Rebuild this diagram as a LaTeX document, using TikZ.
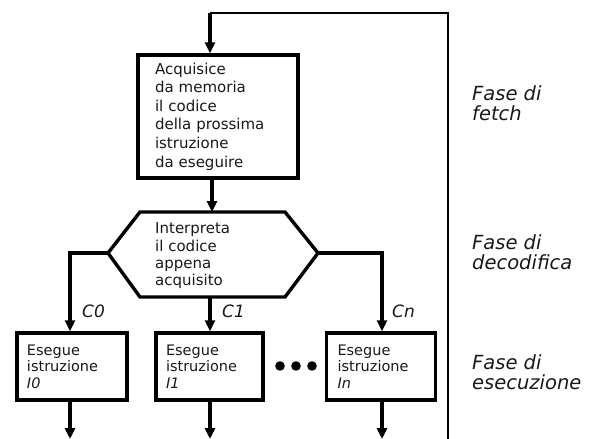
\documentclass[tikz,border=0pt]{standalone}
\usepackage{fontspec}
\setmainfont{DejaVu Sans}
\usetikzlibrary{arrows.meta}
\tikzset{
  line/.style={line width=3.4pt, draw=black},
  arr/.style={line width=3.4pt, draw=black, -{Triangle[length=11pt,width=10pt]}},
  stepbox/.style={draw=black, line width=3.4pt, fill=white, align=left, inner ysep=0pt, text=black!90},
  boxtext/.style={font=\fontsize{15}{18.6}\selectfont},
  smalltext/.style={font=\fontsize{14.5}{16.5}\selectfont},
  lbl/.style={font=\fontsize{17}{20}\selectfont\itshape, text=black!90, inner sep=0pt, anchor=west},
  phase/.style={font=\fontsize{19.5}{20}\selectfont\itshape, text=black!90, inner sep=0pt, anchor=west, align=left},
}
\begin{document}
\begin{tikzpicture}[x=1pt,y=-1pt]
\useasboundingbox (0,0) rectangle (600,439);
% fetch box
\node[stepbox, boxtext, minimum width=160pt, minimum height=123pt, text width=126pt, inner xsep=17pt] (fetch) at (218,116.5)
  {Acquisice\\da memoria\\il codice\\della prossima\\istruzione\\da eseguire};
% loop line
\coordinate (top) at (210,13);
\coordinate (topR) at (448,13);
\coordinate (botR) at (448,439);
\draw[line width=2.6pt, line join=miter] (top) -- (topR) -- (botR);
\draw[arr] (top) -- (top |- fetch.north);
% hexagon
\coordinate (hL) at (108,253);
\coordinate (hTL) at (140,212);
\coordinate (hTR) at (285,212);
\coordinate (hR) at (318,253);
\coordinate (hBR) at (285,297);
\coordinate (hBL) at (140,297);
\draw[line, line join=miter] (hL) -- (hTL) -- (hTR) -- (hR) -- (hBR) -- (hBL) -- cycle;
\node[text=black!90, inner sep=0pt, anchor=west, align=left, font=\fontsize{15}{17.3}\selectfont] (dec) at (155,256)
  {Interpreta\\il codice\\appena\\acquisito};
\coordinate (hT) at (212,212);
\draw[arr] (fetch.south -| hT) -- (hT);
% execution boxes
\node[stepbox, smalltext, minimum width=110pt, minimum height=67pt, text width=90pt, inner xsep=10pt] (e0) at (72,366.5)
  {Esegue\\istruzione\\\textit{I0}};
\node[stepbox, smalltext, minimum width=107pt, minimum height=67pt, text width=87pt, inner xsep=10pt] (e1) at (209.5,366.5)
  {Esegue\\istruzione\\\textit{I1}};
\node[stepbox, smalltext, minimum width=108pt, minimum height=67pt, text width=87pt, inner xsep=11pt] (en) at (381,366.5)
  {Esegue\\istruzione\\\textit{In}};
% branches
\coordinate (b0) at (70,253);
\coordinate (bn) at (382,253);
\coordinate (b1) at (210,297);
\draw[arr, line join=miter] (hL) -- (b0) -- (b0 |- e0.north);
\draw[arr, line join=miter] (hR) -- (bn) -- (bn |- en.north);
\draw[arr] (b1) -- (b1 |- e1.north);
% branch labels
\node[lbl] (c0) at (82,311) {C0};
\node[lbl] (c1) at (222,311) {C1};
\node[lbl] (cn) at (392,311) {Cn};
% outgoing arrows
\coordinate (o0) at (70,439);
\coordinate (o1) at (210,439);
\coordinate (on) at (382,439);
\draw[arr] (o0 |- e0.south) -- (o0);
\draw[arr] (o1 |- e1.south) -- (o1);
\draw[arr] (on |- en.south) -- (on);
% dots
\fill[black] (280,366) circle (4.8pt) (296,366) circle (4.8pt) (312,366) circle (4.8pt);
% phase labels
\node[phase] (pf) at (472,103) {Fase di\\fetch};
\node[phase] (pd) at (472,252.5) {Fase di\\decodifica};
\node[phase] (pe) at (472,372) {Fase di\\esecuzione};
\end{tikzpicture}
\end{document}
